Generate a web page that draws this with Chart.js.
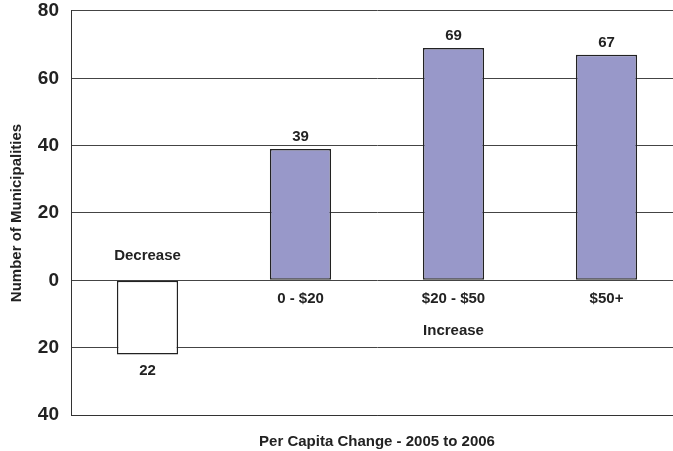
<!DOCTYPE html>
<html>
<head>
<meta charset="utf-8">
<script src="https://cdn.jsdelivr.net/npm/chart.js@4"></script>
<style>
    html, body { margin: 0; padding: 0; background: #fff; overflow: hidden; }
    /* the y tick padding pushes the plot down, so lift the whole canvas a little */
    #wrap { width: 683px; height: 462px; margin-top: -11px; }
</style>
</head>
<body>
<div id="wrap"><canvas id="barChart" width="683" height="462"></canvas></div>
<script>
/* Per capita change, 2005 to 2006 */
const categories = ['Decrease', '0 - $20', '$20 - $50', '$50+'];
const municipalities = [-22, 39, 69, 67];
const barColors = ['#ffffff', '#9898c9', '#9898c9', '#9898c9'];
const yTicks = [-40, -20, 0, 20, 40, 60, 80];
const groupLabel = 'Increase';
const groupLabelIndex = 2;

const FONT = '"Liberation Sans", Arial, Helvetica, sans-serif';
const TEXT = '#222';

// value labels, category labels at the zero line, and the "Increase" group label
const barLabels = {
    id: 'barLabels',
    afterDatasetsDraw(chart) {
        const ctx = chart.ctx;
        const x = chart.scales.x;
        const y = chart.scales.y;
        const zero = y.getPixelForValue(0);
        ctx.save();
        ctx.fillStyle = TEXT;
        ctx.font = 'bold 15px ' + FONT;
        ctx.textAlign = 'center';
        ctx.textBaseline = 'middle';
        municipalities.forEach((v, i) => {
            const cx = x.getPixelForValue(i);
            const top = y.getPixelForValue(v);
            if (v < 0) {
                ctx.fillText(String(Math.abs(v)), cx, top + 16);
                ctx.fillText(categories[i], cx, zero - 24);
            } else {
                ctx.fillText(String(v), cx, top - 12);
                ctx.fillText(categories[i], cx, zero + 19);
            }
        });
        ctx.fillText(groupLabel, x.getPixelForValue(groupLabelIndex), zero + 51);
        ctx.restore();
    }
};

new Chart(document.getElementById('barChart'), {
    type: 'bar',
    data: {
        labels: categories,
        datasets: [{
            data: municipalities,
            backgroundColor: barColors,
            borderColor: '#222',
            borderWidth: 1.5,
            borderSkipped: false,
            barPercentage: 0.4,
            categoryPercentage: 1
        }]
    },
    options: {
        responsive: false,
        animation: false,
        layout: { padding: 0 },
        plugins: {
            legend: { display: false },
            tooltip: { enabled: false }
        },
        scales: {
            x: {
                ticks: { display: false },
                grid: { display: false },
                border: { display: true, color: '#333', width: 1 },
                title: {
                    display: true,
                    text: 'Per Capita Change - 2005 to 2006',
                    color: TEXT,
                    font: { family: FONT, size: 15, weight: 'bold' },
                    padding: { top: 0, bottom: 0 }
                },
                afterFit(scale) { scale.height = 36; }
            },
            y: {
                min: yTicks[0],
                max: yTicks[yTicks.length - 1],
                afterBuildTicks(scale) {
                    scale.ticks = yTicks.map(v => ({ value: v }));
                },
                ticks: {
                    color: TEXT,
                    padding: 12,
                    font: { family: FONT, size: 19, weight: 'bold', lineHeight: 1.05 },
                    callback: v => String(Math.abs(v))
                },
                grid: { color: '#444', lineWidth: 1, drawTicks: false },
                border: { display: true, color: '#333', width: 1 },
                title: {
                    display: true,
                    text: 'Number of Municipalities',
                    color: TEXT,
                    font: { family: FONT, size: 15, weight: 'bold' },
                    padding: { top: 8, bottom: 0 }
                },
                afterFit(scale) { scale.width = 71; }
            }
        }
    },
    plugins: [barLabels]
});
</script>
</body>
</html>
